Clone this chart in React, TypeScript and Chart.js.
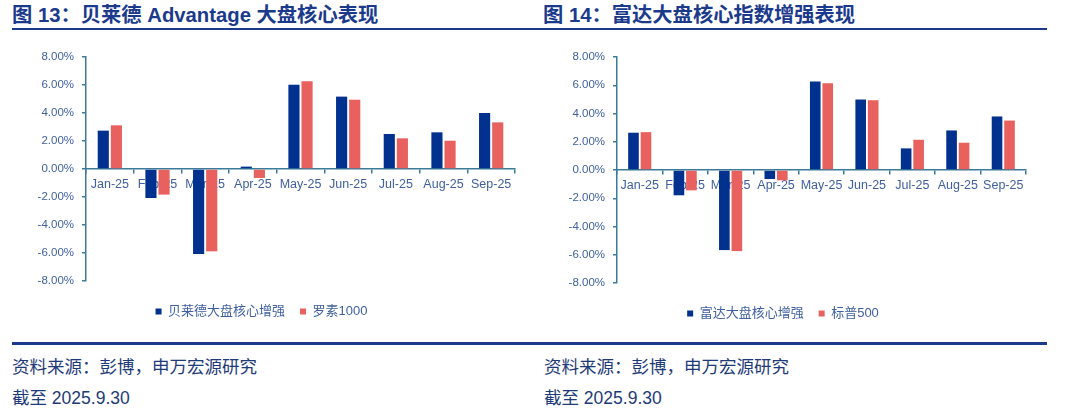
import React, { useEffect, useRef } from 'react';
import { Chart, registerables } from 'chart.js';

Chart.register(...registerables);

// ---- data ----
const categories = ['Jan-25', 'Feb-25', 'Mar-25', 'Apr-25', 'May-25', 'Jun-25', 'Jul-25', 'Aug-25', 'Sep-25'];
const blackrockCore = [2.74, -2.07, -6.07, 0.17, 6.02, 5.17, 2.5, 2.62, 4.0];
const russell1000 = [3.12, -1.83, -5.88, -0.64, 6.26, 4.95, 2.19, 2.02, 3.33];
const fidelityCore = [2.64, -1.79, -5.67, -0.64, 6.26, 4.99, 1.53, 2.8, 3.79];
const sp500 = [2.68, -1.44, -5.74, -0.73, 6.14, 4.94, 2.14, 1.93, 3.5];
const yMin = -8;
const yMax = 8;
const yStep = 2;

const leftTitle = '图 13：贝莱德 Advantage 大盘核心表现';
const rightTitle = '图 14：富达大盘核心指数增强表现';
const sourceText = '资料来源：彭博，申万宏源研究';
const dateText = '截至 2025.9.30';

// ---- styles ----
const BLUE = '#00318F';
const RED = '#E8615F';
const AXIS = '#3B7B99';
const TICK = '#3F5FA0';
const TITLE = '#1B3A8C';
const FOOT = '#1E3A78';
const FONT = "'Liberation Sans', Arial, 'Noto Sans CJK SC', sans-serif";

type PanelProps = {
  left: number;
  width: number;
  nameA: string;
  nameB: string;
  seriesA: number[];
  seriesB: number[];
  axisWidth: number;
  padRight: number;
  padBottom: number;
};

function BarPanel(p: PanelProps) {
  const ref = useRef<HTMLCanvasElement | null>(null);
  useEffect(() => {
    if (!ref.current) return;
    const chart = new Chart(ref.current, {
      type: 'bar',
      data: {
        labels: categories,
        datasets: [
          { label: p.nameA, data: p.seriesA, backgroundColor: BLUE, borderWidth: 0, barPercentage: 0.85, categoryPercentage: 0.55 },
          { label: p.nameB, data: p.seriesB, backgroundColor: RED, borderWidth: 0, barPercentage: 0.85, categoryPercentage: 0.55 },
        ],
      },
      options: {
        animation: false,
        responsive: true,
        maintainAspectRatio: false,
        layout: { padding: { top: 17, right: p.padRight, bottom: p.padBottom, left: 0 } },
        plugins: {
          tooltip: { enabled: false },
          legend: {
            position: 'bottom',
            title: { display: true, text: '', font: { size: 1, lineHeight: 1 }, padding: { top: 0, bottom: 8 } },
            labels: {
              boxWidth: 6,
              boxHeight: 6,
              padding: 15,
              color: TICK,
              font: { family: FONT, size: 13 },
            },
          },
        },
        scales: {
          x: {
            position: { y: 0 } as any,
            grid: { display: true, drawOnChartArea: false, tickLength: 4, color: AXIS, lineWidth: 1.5, offset: true },
            border: { display: true, color: AXIS, width: 1.5 },
            ticks: { color: TICK, font: { family: FONT, size: 12.5 }, maxRotation: 0, autoSkip: false, padding: 4 },
          },
          y: {
            min: yMin,
            max: yMax,
            afterFit: (scale: any) => {
              scale.width = p.axisWidth;
            },
            grid: { display: true, drawOnChartArea: false, tickLength: 4, color: AXIS, lineWidth: 1.5 },
            border: { display: true, color: AXIS, width: 1.5 },
            ticks: {
              stepSize: yStep,
              color: TICK,
              padding: 8,
              font: { family: FONT, size: 11.5 },
              callback: (v: any) => Number(v).toFixed(2) + '%',
            },
          },
        },
      },
    });
    return () => chart.destroy();
  }, []);
  return (
    <div style={{ position: 'absolute', left: p.left, top: 40, width: p.width, height: 290 }}>
      <canvas ref={ref} />
    </div>
  );
}

const titleStyle: React.CSSProperties = {
  position: 'absolute',
  top: 4,
  fontFamily: FONT,
  fontWeight: 'bold',
  fontSize: 20.3,
  lineHeight: '22px',
  color: TITLE,
  whiteSpace: 'nowrap',
};

const footStyle: React.CSSProperties = {
  position: 'absolute',
  fontFamily: FONT,
  fontSize: 17.5,
  lineHeight: '20px',
  color: FOOT,
  whiteSpace: 'nowrap',
};

export default function App() {
  return (
    <div style={{ position: 'absolute', left: 0, top: 0, width: 1080, height: 420, background: '#fff', overflow: 'hidden' }}>
      <div style={{ ...titleStyle, left: 12 }}>{leftTitle}</div>
      <div style={{ ...titleStyle, left: 543 }}>{rightTitle}</div>
      <div style={{ position: 'absolute', left: 12, top: 28, width: 1035, height: 2, background: TITLE }} />

      <BarPanel left={8} width={527} nameA="贝莱德大盘核心增强" nameB="罗素1000" seriesA={blackrockCore} seriesB={russell1000} axisWidth={78} padRight={20} padBottom={2} />
      <BarPanel left={540} width={507} nameA="富达大盘核心增强" nameB="标普500" seriesA={fidelityCore} seriesB={sp500} axisWidth={77} padRight={21} padBottom={0} />

      <div style={{ position: 'absolute', left: 12, top: 342, width: 1035, height: 3, background: TITLE }} />
      <div style={{ ...footStyle, left: 12, top: 357 }}>{sourceText}</div>
      <div style={{ ...footStyle, left: 544, top: 357 }}>{sourceText}</div>
      <div style={{ ...footStyle, left: 12, top: 388 }}>{dateText}</div>
      <div style={{ ...footStyle, left: 544, top: 388 }}>{dateText}</div>
    </div>
  );
}
